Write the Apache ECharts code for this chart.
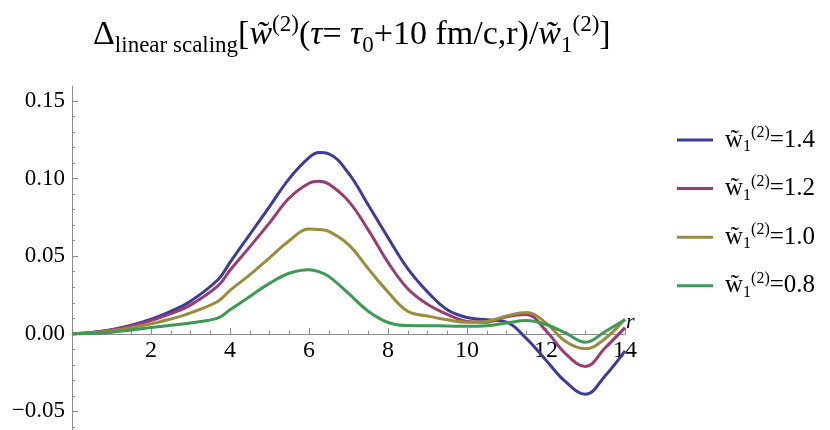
<!DOCTYPE html>
<html>
<head>
<meta charset="utf-8">
<script src="https://cdn.jsdelivr.net/npm/echarts@6/dist/echarts.min.js"></script>
<style>
html, body { margin: 0; padding: 0; background: #fff; }
#main { width: 830px; height: 430px; }
</style>
</head>
<body>
<div id="main"></div>
<script>
// r 取样点
var rValues = [0, 0.5, 1, 1.5, 2, 2.5, 3, 3.7, 4, 4.5, 5, 5.5, 6, 6.25, 6.5, 7, 7.5, 8, 8.5, 9, 9.5, 10, 10.5, 11, 11.5, 12, 12.5, 13, 13.5, 14];
// 各条曲线的值
var w14 = [0, 0.0008, 0.0026, 0.0055, 0.0095, 0.0145, 0.021, 0.035, 0.046, 0.064, 0.082, 0.100, 0.1135, 0.1168, 0.116, 0.1035, 0.083, 0.062, 0.042, 0.027, 0.0155, 0.0105, 0.009, 0.0075, -0.003, -0.017, -0.031, -0.039, -0.027, -0.011];
var w12 = [0, 0.0008, 0.0025, 0.005, 0.0085, 0.013, 0.0185, 0.031, 0.041, 0.056, 0.0715, 0.0875, 0.097, 0.0983, 0.0965, 0.0855, 0.067, 0.046, 0.029, 0.019, 0.0125, 0.008, 0.0075, 0.011, 0.0125, 0.002, -0.013, -0.021, -0.009, 0.004];
var w10 = [0, 0.0006, 0.002, 0.004, 0.0064, 0.0095, 0.0135, 0.021, 0.028, 0.038, 0.049, 0.060, 0.0675, 0.0672, 0.066, 0.0575, 0.042, 0.027, 0.0145, 0.0115, 0.009, 0.0075, 0.008, 0.0115, 0.0138, 0.007, -0.005, -0.0097, -0.003, 0.0095];
var w08 = [0, 0.0003, 0.001, 0.0025, 0.004, 0.0055, 0.007, 0.0103, 0.0155, 0.024, 0.0325, 0.039, 0.0413, 0.040, 0.037, 0.026, 0.0145, 0.0073, 0.0053, 0.0052, 0.005, 0.0048, 0.0052, 0.007, 0.0085, 0.006, 0.0005, -0.0055, 0.0015, 0.009];
var seriesNames = ['1.4', '1.2', '1.0', '0.8'];
var seriesValues = [w14, w12, w10, w08];
var seriesColors = ['#3d3d99', '#993d71', '#998c3d', '#3d9954'];
// 刻度标签
var yLabelTicks = [-0.05, 0, 0.05, 0.1, 0.15];

var yMinorTicks = [];
for (var j = -6; j <= 16; j++) yMinorTicks.push(+(j * 0.01).toFixed(2));

var myChart = echarts.init(document.getElementById('main'));

var seriesData = seriesNames.map(function (name, k) {
  return {
    name: name,
    type: 'line',
    xAxisIndex: 0,
    yAxisIndex: 0,
    smooth: 0.4,
    symbol: 'none',
    lineStyle: { width: 3, color: seriesColors[k] },
    itemStyle: { color: seriesColors[k] },
    data: rValues.map(function (r, idx) { return [r, seriesValues[k][idx]]; })
  };
});

var serif = 'Liberation Serif';
var axisGray = '#8c8c8c';

myChart.setOption({
  animation: false,
  textStyle: { fontFamily: serif },
  title: {
    left: 88,
    top: 8,
    text: '{n|Δ}{sub|linear scaling}{n|[}{i|w̃}{sup|(2)}{n|(}{i|τ}{n|= }{i|τ}{sub|0}{n|+10 fm/c,r)/}{i|w̃}{sub|1}{sup|(2)}{n|]}',
    textStyle: {
      fontFamily: serif,
      fontWeight: 'normal',
      rich: {
        n: { fontFamily: serif, fontWeight: 'normal', fontSize: 34, lineHeight: 44, color: '#000' },
        i: { fontFamily: serif, fontWeight: 'normal', fontSize: 34, lineHeight: 44, fontStyle: 'italic', color: '#000' },
        sub: { fontFamily: serif, fontWeight: 'normal', fontSize: 23, lineHeight: 23, verticalAlign: 'bottom', color: '#000' },
        sup: { fontFamily: serif, fontWeight: 'normal', fontSize: 23, lineHeight: 23, verticalAlign: 'top', color: '#000' }
      }
    }
  },
  legend: {
    orient: 'vertical',
    left: 677,
    top: 125,
    padding: 0,
    itemWidth: 36,
    itemHeight: 3,
    itemGap: 18.6,
    icon: 'rect',
    data: seriesNames,
    formatter: function (name) {
      return '{w|w̃}{s|1}{p|(2)}{t|=' + name + '}';
    },
    textStyle: {
      fontFamily: serif,
      padding: [0, 0, 0, 7],
      rich: {
        w: { fontFamily: serif, fontSize: 25, lineHeight: 30, color: '#000' },
        t: { fontFamily: serif, fontSize: 25, lineHeight: 30, color: '#000' },
        s: { fontFamily: serif, fontSize: 16, lineHeight: 16, verticalAlign: 'bottom', color: '#000' },
        p: { fontFamily: serif, fontSize: 16, lineHeight: 16, verticalAlign: 'top', color: '#000' }
      }
    }
  },
  grid: [
    { left: 72, top: 86, width: 553, height: 344, outerBoundsMode: 'none' },
    { left: 72, top: 86, width: 553, height: 248, outerBoundsMode: 'none' }
  ],
  xAxis: [
    {
      type: 'value',
      gridIndex: 0,
      min: 0,
      max: 14,
      show: false
    },
    {
      type: 'value',
      gridIndex: 1,
      min: 0,
      max: 14,
      interval: 2,
      position: 'bottom',
      name: 'r',
      nameLocation: 'end',
      nameGap: 1,
      nameTextStyle: { fontFamily: serif, fontSize: 22, fontStyle: 'italic', color: '#000', verticalAlign: 'bottom', padding: [0, 0, 1, 0] },
      axisLine: { show: true, onZero: false, lineStyle: { color: axisGray, width: 1 } },
      axisTick: { show: true, inside: true, length: 6, lineStyle: { color: axisGray } },
      minorTick: { show: true, splitNumber: 4, length: 3, lineStyle: { color: axisGray } },
      axisLabel: {
        show: true,
        margin: 5,
        fontFamily: serif,
        fontSize: 24,
        color: '#000',
        textStyle: { fontFamily: serif, fontSize: 24, color: '#000' },
        rich: { a: { fontFamily: serif, fontSize: 24, color: '#000' } },
        formatter: function (v) { return v === 0 ? '' : '{a|' + v + '}'; }
      },
      splitLine: { show: false }
    }
  ],
  yAxis: [
    {
      type: 'value',
      gridIndex: 0,
      min: -0.062,
      max: 0.1597,
      position: 'left',
      axisLine: { show: true, onZero: false, lineStyle: { color: axisGray, width: 1 } },
      axisTick: { show: true, inside: true, length: 3, customValues: yMinorTicks, lineStyle: { color: axisGray } },
      axisLabel: { show: false },
      splitLine: { show: false }
    },
    {
      type: 'value',
      gridIndex: 0,
      min: -0.062,
      max: 0.1597,
      position: 'left',
      offset: 0,
      axisLine: { show: false, onZero: false },
      axisTick: { show: true, inside: true, length: 6, customValues: yLabelTicks, lineStyle: { color: axisGray } },
      axisLabel: {
        show: true,
        customValues: yLabelTicks,
        margin: 7,
        fontFamily: serif,
        fontSize: 23,
        color: '#000',
        textStyle: { fontFamily: serif, fontSize: 23, color: '#000' },
        rich: { a: { fontFamily: serif, fontSize: 23, color: '#000' } },
        formatter: function (v) {
          return '{a|' + (v < 0 ? '\u2212' : '') + Math.abs(v).toFixed(2) + '}';
        }
      },
      splitLine: { show: false }
    },
    {
      type: 'value',
      gridIndex: 1,
      min: 0,
      max: 1,
      show: false
    }
  ],
  series: seriesData
});
</script>
</body>
</html>
